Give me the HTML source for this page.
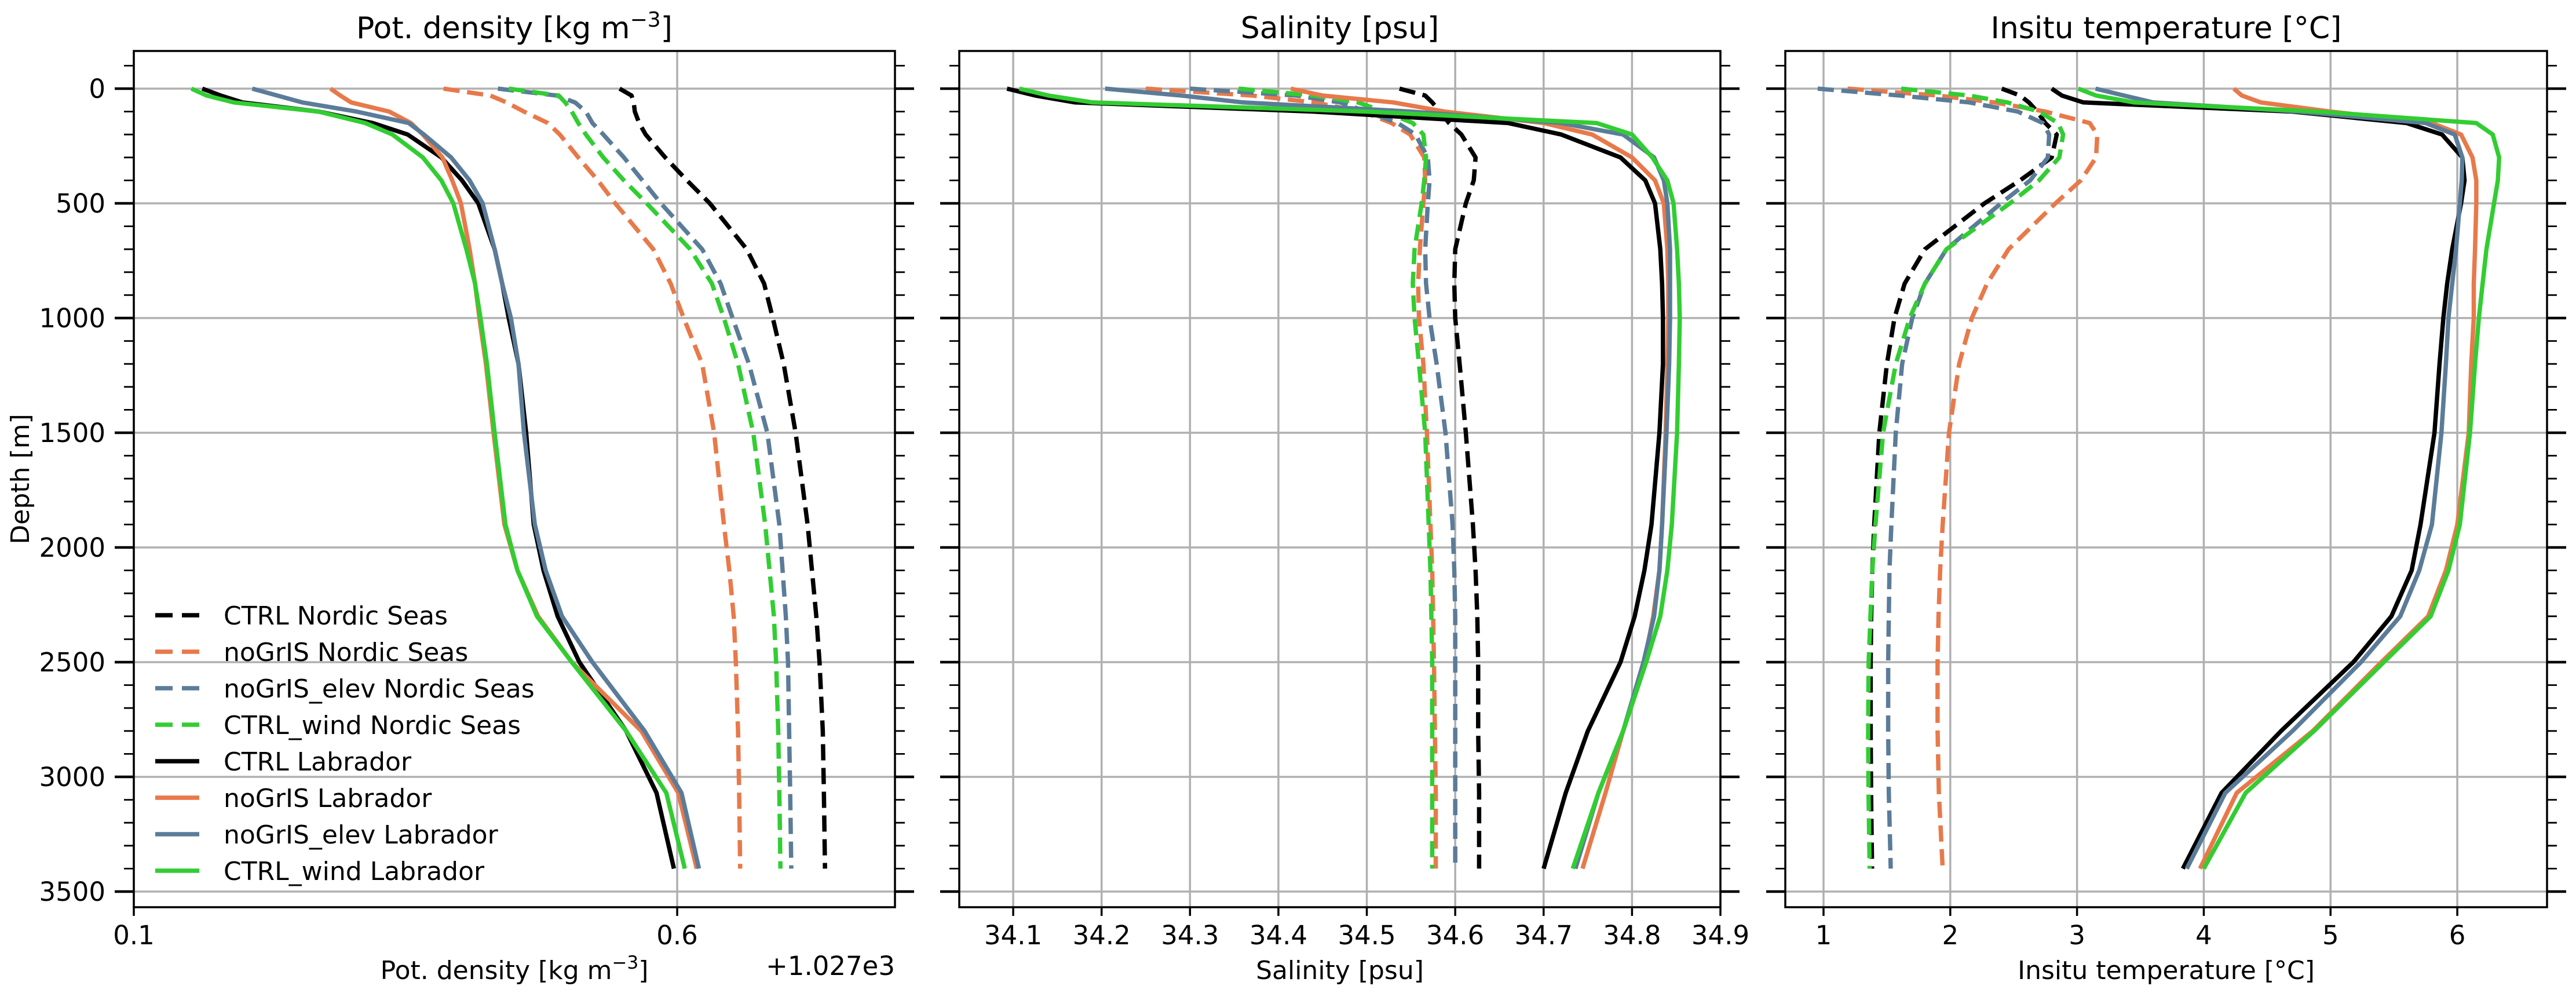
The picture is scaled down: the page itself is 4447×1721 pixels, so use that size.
<!DOCTYPE html>
<html><head><meta charset="utf-8"><style>
html,body{margin:0;padding:0;background:#fff;}
svg{display:block;font-family:"DejaVu Sans","Liberation Sans",sans-serif;}
</style></head><body>
<svg id="fig" width="4447" height="1721" viewBox="0 0 4447 1721" xmlns="http://www.w3.org/2000/svg">
<rect width="4447" height="1721" fill="#fff"/>
</svg>
<script>
const depths = [0,30,60,100,150,200,300,400,500,700,850,1000,1200,1500,1900,2100,2300,2500,2800,3070,3400];
const seriesNames = ["CTRL Nordic Seas","noGrIS Nordic Seas","noGrIS_elev Nordic Seas","CTRL_wind Nordic Seas","CTRL Labrador","noGrIS Labrador","noGrIS_elev Labrador","CTRL_wind Labrador"];
const seriesColors = ["#000000","#e8794a","#5b7c99","#32cd32","#000000","#e8794a","#5b7c99","#32cd32"];
const seriesDashed = [true,true,true,true,false,false,false,false];

const densCtrlNordic = [0.547,0.558,0.560,0.561,0.565,0.571,0.589,0.609,0.630,0.664,0.680,0.688,0.698,0.709,0.720,0.724,0.728,0.731,0.734,0.735,0.736];
const densNoGrISNordic = [0.385,0.428,0.443,0.459,0.481,0.492,0.509,0.527,0.543,0.578,0.594,0.606,0.623,0.634,0.643,0.648,0.652,0.654,0.656,0.657,0.658];
const densElevNordic = [0.435,0.489,0.506,0.516,0.522,0.532,0.551,0.568,0.585,0.623,0.640,0.651,0.666,0.683,0.694,0.697,0.700,0.702,0.703,0.704,0.705];
const densWindNordic = [0.445,0.491,0.497,0.503,0.509,0.516,0.532,0.551,0.572,0.612,0.632,0.643,0.656,0.670,0.681,0.685,0.689,0.691,0.693,0.694,0.695];
const densCtrlLab = [0.163,0.180,0.200,0.270,0.320,0.352,0.383,0.402,0.417,0.432,0.439,0.445,0.454,0.461,0.468,0.477,0.490,0.510,0.553,0.581,0.597];
const densNoGrISLab = [0.281,0.290,0.300,0.335,0.355,0.366,0.384,0.393,0.401,0.409,0.414,0.418,0.424,0.431,0.441,0.453,0.472,0.503,0.567,0.601,0.618];
const densElevLab = [0.209,0.232,0.255,0.305,0.353,0.367,0.392,0.409,0.421,0.432,0.439,0.447,0.454,0.459,0.469,0.479,0.494,0.522,0.570,0.604,0.620];
const densWindLab = [0.153,0.167,0.192,0.270,0.313,0.338,0.366,0.383,0.394,0.406,0.414,0.419,0.425,0.432,0.442,0.453,0.471,0.503,0.553,0.590,0.607];

const salCtrlNordic = [34.537,34.566,34.574,34.583,34.593,34.607,34.623,34.621,34.612,34.600,34.599,34.600,34.605,34.612,34.620,34.623,34.625,34.626,34.626,34.627,34.627];
const salNoGrISNordic = [34.25,34.37,34.44,34.495,34.528,34.549,34.565,34.566,34.564,34.560,34.558,34.559,34.564,34.568,34.572,34.574,34.575,34.576,34.577,34.578,34.578];
const salElevNordic = [34.30,34.42,34.47,34.50,34.535,34.555,34.569,34.571,34.569,34.566,34.567,34.571,34.579,34.589,34.597,34.599,34.600,34.600,34.600,34.600,34.600];
const salWindNordic = [34.355,34.44,34.49,34.52,34.552,34.564,34.567,34.565,34.562,34.554,34.552,34.554,34.559,34.566,34.570,34.572,34.573,34.574,34.574,34.574,34.574];
const salCtrlLab = [34.093,34.125,34.17,34.44,34.66,34.72,34.787,34.815,34.826,34.832,34.834,34.835,34.835,34.831,34.822,34.814,34.803,34.787,34.750,34.725,34.700];
const salNoGrISLab = [34.414,34.45,34.53,34.588,34.70,34.755,34.80,34.826,34.836,34.840,34.841,34.841,34.840,34.838,34.834,34.831,34.824,34.814,34.790,34.770,34.744];
const salElevLab = [34.204,34.29,34.36,34.55,34.72,34.79,34.825,34.836,34.84,34.843,34.843,34.843,34.842,34.839,34.834,34.831,34.825,34.813,34.79,34.762,34.736];
const salWindLab = [34.107,34.14,34.19,34.50,34.76,34.80,34.823,34.84,34.847,34.851,34.853,34.854,34.853,34.851,34.845,34.840,34.832,34.816,34.79,34.762,34.733];

const tempCtrlNordic = [2.406,2.55,2.62,2.686,2.75,2.84,2.80,2.55,2.27,1.80,1.64,1.56,1.50,1.44,1.40,1.385,1.376,1.372,1.372,1.375,1.383];
const tempNoGrISNordic = [1.19,1.90,2.35,2.75,3.10,3.16,3.15,3.03,2.83,2.46,2.29,2.17,2.07,1.99,1.94,1.92,1.907,1.90,1.90,1.91,1.94];
const tempElevNordic = [0.954,1.6,2.15,2.533,2.73,2.78,2.77,2.63,2.40,1.97,1.80,1.70,1.62,1.57,1.535,1.52,1.515,1.51,1.51,1.515,1.53];
const tempWindNordic = [1.613,2.15,2.45,2.70,2.85,2.89,2.86,2.70,2.47,1.97,1.80,1.68,1.57,1.47,1.41,1.385,1.37,1.356,1.352,1.355,1.364];
const tempCtrlLab = [2.80,2.88,3.05,4.70,5.60,5.88,6.04,6.057,6.03,5.96,5.92,5.89,5.86,5.82,5.71,5.64,5.48,5.18,4.61,4.14,3.835];
const tempNoGrISLab = [4.237,4.30,4.45,5.0,5.80,6.03,6.12,6.15,6.15,6.14,6.13,6.13,6.11,6.09,6.00,5.91,5.77,5.40,4.86,4.26,3.97];
const tempElevLab = [3.146,3.37,3.60,4.75,5.75,5.98,6.04,6.035,6.02,5.99,5.96,5.93,5.91,5.875,5.80,5.70,5.55,5.24,4.70,4.17,3.866];
const tempWindLab = [3.01,3.15,3.45,4.90,6.15,6.28,6.33,6.32,6.29,6.23,6.20,6.17,6.14,6.10,6.02,5.93,5.79,5.42,4.87,4.33,4.0];

const densTicks = [0.1,0.6];
const densTickLabels = ["0.1","0.6"];
const salTicks = [34.1,34.2,34.3,34.4,34.5,34.6,34.7,34.8,34.9];
const salTickLabels = ["34.1","34.2","34.3","34.4","34.5","34.6","34.7","34.8","34.9"];
const tempTicks = [1,2,3,4,5,6];
const tempTickLabels = ["1","2","3","4","5","6"];
const depthTicks = [0,500,1000,1500,2000,2500,3000,3500];
const depthTickLabels = ["0","500","1000","1500","2000","2500","3000","3500"];

const NS="http://www.w3.org/2000/svg";
const svg=document.getElementById('fig');
function mk(tag,attrs,parent){const e=document.createElementNS(NS,tag);for(const k in attrs)e.setAttribute(k,attrs[k]);(parent||svg).appendChild(e);return e;}

const plotTop=88,plotBottom=1566;
function yScale(d){return 153+d*0.396;}

const panels=[
 {key:'density',x0:231,x1:1545,d0:0.1,d1:0.8004,title:'Pot. density [kg m',sup:'\u22123',tail:']',xlabel:'Pot. density [kg m',ticks:densTicks,labels:densTickLabels,
  data:[densCtrlNordic,densNoGrISNordic,densElevNordic,densWindNordic,densCtrlLab,densNoGrISLab,densElevLab,densWindLab]},
 {key:'salinity',x0:1656,x1:2970,d0:34.039,d1:34.9,title:'Salinity [psu]',xlabel:'Salinity [psu]',ticks:salTicks,labels:salTickLabels,
  data:[salCtrlNordic,salNoGrISNordic,salElevNordic,salWindNordic,salCtrlLab,salNoGrISLab,salElevLab,salWindLab]},
 {key:'temperature',x0:3082,x1:4397,d0:0.6984,d1:6.708,title:'Insitu temperature [\u00b0C]',xlabel:'Insitu temperature [\u00b0C]',ticks:tempTicks,labels:tempTickLabels,
  data:[tempCtrlNordic,tempNoGrISNordic,tempElevNordic,tempWindNordic,tempCtrlLab,tempNoGrISLab,tempElevLab,tempWindLab]}
];

panels.forEach((p,pi)=>{
  const xs=v=>p.x0+(v-p.d0)/(p.d1-p.d0)*(p.x1-p.x0);
  const g=mk('g',{});
  
  
  depthTicks.forEach(d=>{
    const l=mk('line',{x1:p.x0,x2:p.x1,y1:yScale(d),y2:yScale(d),stroke:'#b0b0b0','stroke-width':3.5},g);
    
    
  });
  p.ticks.forEach(t=>{
    const l=mk('line',{x1:xs(t),x2:xs(t),y1:plotTop,y2:plotBottom,stroke:'#b0b0b0','stroke-width':3.5},g);
    
    
  });
  p.data.forEach((arr,si)=>{
    const pts=arr.map((v,i)=>xs(v).toFixed(1)+','+yScale(depths[i]).toFixed(1)).join(' ');
    const pl=mk('polyline',{points:pts,fill:'none',stroke:seriesColors[si],'stroke-width':7.5,'stroke-linejoin':'round'},g);
    if(seriesDashed[si])pl.setAttribute('stroke-dasharray','28 13');
    
    
  });
  const fr=mk('rect',{x:p.x0,y:plotTop,width:p.x1-p.x0,height:plotBottom-plotTop,fill:'none',stroke:'#000','stroke-width':3.5},g);
  
  
  for(let d=-100;d<=3500;d+=100){
    const y=yScale(d);const major=(d%500===0);
    const len=major?33:17,w=major?4.5:2.8;
    const a=mk('line',{x1:p.x0-len,x2:p.x0,y1:y,y2:y,stroke:'#000','stroke-width':w},g);
    
    
    const b=mk('line',{x1:p.x1,x2:p.x1+len,y1:y,y2:y,stroke:'#000','stroke-width':w},g);
    
    
  }
  p.ticks.forEach((t,i)=>{
    const x=xs(t);
    const tk=mk('line',{x1:x,x2:x,y1:plotBottom,y2:plotBottom+15,stroke:'#000','stroke-width':3.5},g);
    
    
    const tl=mk('text',{x:x,y:1630,'font-size':45,'text-anchor':'middle',fill:'#000'},g);
    tl.textContent=p.labels[i];
    
    
  });
  const cx=(p.x0+p.x1)/2;
  const ti=mk('text',{x:cx,y:66,'font-size':52,'text-anchor':'middle',fill:'#000'},g);
  
  
  const xl=mk('text',{x:cx,y:1690,'font-size':44,'text-anchor':'middle',fill:'#000'},g);
  
  
  if(p.sup){
    ti.appendChild(document.createTextNode(p.title));
    const s1=mk('tspan',{dy:-20,'font-size':36},ti); s1.textContent=p.sup;
    const s2=mk('tspan',{dy:20},ti); s2.textContent=p.tail;
    xl.appendChild(document.createTextNode(p.xlabel));
    const s3=mk('tspan',{dy:-18,'font-size':31},xl); s3.textContent=p.sup;
    const s4=mk('tspan',{dy:18},xl); s4.textContent=p.tail;
  } else {ti.textContent=p.title;xl.textContent=p.xlabel;}
  if(pi===0){
    depthTicks.forEach((d,i)=>{
      const t=mk('text',{x:182,y:yScale(d)+16,'font-size':45,'text-anchor':'end',fill:'#000'},g);
      t.textContent=depthTickLabels[i];
      
      
    });
    const off=mk('text',{x:p.x1,y:1683,'font-size':45,'text-anchor':'end',fill:'#000'},g);
    off.textContent='+1.027e3';
    
    
  }
});

const yt=mk('text',{x:0,y:0,'font-size':44,'text-anchor':'middle',fill:'#000',transform:'translate(50,827) rotate(-90)'});
yt.textContent='Depth [m]';



const lg=mk('g',{});


seriesNames.forEach((n,i)=>{
  const y=1062+63*i;
  const e=mk('g',{},lg);
  
  
  const l=mk('line',{x1:268,x2:344,y1:y,y2:y,stroke:seriesColors[i],'stroke-width':7.5},e);
  if(seriesDashed[i])l.setAttribute('stroke-dasharray','30 16');
  
  
  const t=mk('text',{x:386,y:y+16,'font-size':44,fill:'#000'},e);
  t.textContent=n;
  
  
});
</script>
</body></html>
